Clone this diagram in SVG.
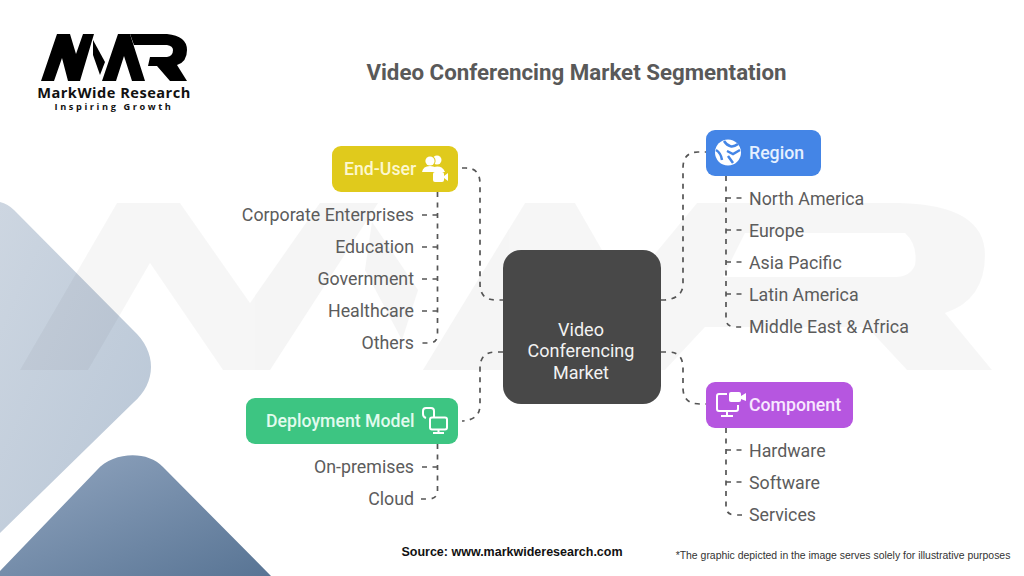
<svg xmlns="http://www.w3.org/2000/svg" width="1024" height="576" viewBox="0 0 1024 576">
<style>
text{font-family:Roboto,"Liberation Sans",sans-serif}
.leaf{font-size:17.8px;fill:#5c5c5c}
.end{text-anchor:end}
.head{font-size:17.7px;font-weight:500;fill:#fff}
.mid{font-size:18px;fill:#f2f2f2;text-anchor:middle}
.conn{fill:none;stroke:#555;stroke-width:1.7;stroke-dasharray:5 5.5}
.ic{fill:#fff}
.il{fill:none;stroke:#fff;stroke-width:2}
</style>
<defs>
<linearGradient id="g1" x1="0" y1="0" x2="1" y2="1"><stop offset="0" stop-color="#cdd6e1"/><stop offset="1" stop-color="#b8c6d6"/></linearGradient>
<linearGradient id="g2" x1="0" y1="0" x2="1" y2="1"><stop offset="0" stop-color="#92a6c0"/><stop offset="1" stop-color="#587494"/></linearGradient>
</defs>
<rect width="1024" height="576" fill="#fff"/>
<path id="shape-light" d="M0 202Q8 204 14 210L133 330C157 352 157 382 133 403L0 533Z" fill="url(#g1)"/>
<path id="shape-dark" d="M0 571L97 470C113 452 147 450 163 467L271 576H0Z" fill="url(#g2)"/>
<g id="watermark" fill="#000" opacity="0.036">
<path d="M20 370L117 203H180L250 303L320 203H378L270 370H223L150 263L88 370Z"/>
<path d="M372 222L418 290L402 340L365 270Z"/>
<path fill-rule="evenodd" d="M423 370L525 203H575L625 290L697 203H900Q985 205 985 255Q985 300 945 313L992 370H907L867 327H705L665 370H580L540 300L505 370ZM745 233H905Q918 245 915 265Q910 277 895 277H723Z"/>
</g>
<g id="logo">
<path d="M41 81L57 34H70L76 54L83 34H94L80 81H68L62 58L54 81Z" fill="#000"/>
<path d="M93 40L105 62L100 75L93 55Z" fill="#000"/>
<path d="M102 81L118 34H130L145 81H132L124 56L116 81Z" fill="#000"/>
<path d="M130 34H167Q187 36 187 50Q187 62 177 65L187 81H170L157 66H148L150 57H167Q173 56 173 50Q173 46 167 45H134Z" fill="#000"/>
<text x="114" y="98" text-anchor="middle" style="font-family:'Open Sans','Liberation Sans',sans-serif" font-size="14.6" font-weight="700" letter-spacing="0.5" fill="#111">MarkWide Research</text>
<text x="114" y="109.500" text-anchor="middle" style="font-family:'Open Sans','Liberation Sans',sans-serif" font-size="9.2" font-weight="700" letter-spacing="2.6" fill="#111">Inspiring Growth</text>
</g>
<text id="title" x="576.5" y="80" text-anchor="middle" font-size="22.3" font-weight="700" fill="#595959">Video Conferencing Market Segmentation</text>
<g id="connectors">
<path class="conn" d="M462 168H466Q480 168 480 184V284Q480 300 496 300H503"/>
<path class="conn" d="M661 300H665Q683 298 683 284V168Q683 152 698 152H706"/>
<path class="conn" d="M503 352H496Q480 352 480 368V405Q480 420 462 421"/>
<path class="conn" d="M661 352H668Q683 352 683 368V388Q683 404 700 404H706"/>
<path class="conn" d="M437.5 192V335Q437.5 342 430 343H420M437.5 215H422M437.5 247H422M437.5 279H422M437.5 311H422"/>
<path class="conn" d="M726 176V319Q726 326 734 327H742M726 198H742M726 230H742M726 262H742M726 294H742"/>
<path class="conn" d="M437.5 444V491Q437.5 498 430 499H420M437.5 467H422"/>
<path class="conn" d="M726 428V507Q726 514 734 515H742M726 450H742M726 482H742"/>
</g>
<g id="center"><rect x="503" y="250" width="158" height="154" rx="18" fill="#484848"/>
<text class="mid" x="581" y="335.500">Video</text>
<text class="mid" x="581" y="357">Conferencing</text>
<text class="mid" x="581" y="378.500">Market</text></g>
<g id="end-user"><rect x="332" y="146" width="126" height="46" rx="9" fill="#e0ca1c"/>
<text class="head" x="344" y="175" style="fill:#fdf8cf">End-User</text>
<circle class="ic" cx="437" cy="160" r="4.5"/><path class="ic" d="M434 167Q442 165 445 172H437Z"/>
<circle cx="430" cy="161" r="5.6" fill="#e0ca1c"/><circle class="ic" cx="430" cy="161" r="4.6"/><path class="ic" d="M422 172Q423 166 430 166Q437 166 439 172Z"/>
<rect class="ic" x="433" y="172" width="11" height="10" rx="2"/><path class="ic" d="M444 176L448 173V181L444 178Z"/></g>
<g id="deployment-model"><rect x="246" y="398" width="212" height="46" rx="9" fill="#3dc582"/>
<text class="head" x="266" y="427" style="fill:#e2fbee">Deployment Model</text>
<path class="il" d="M426 418Q423 417 423 414V411Q423 408 426 408H431Q434 408 434 411V417" stroke-width="1.6"/><rect class="il" x="430" y="417.500" width="17" height="12" rx="2"/><path class="il" d="M438.500 430V433M433 433H444"/></g>
<g id="region"><rect x="706" y="130" width="115" height="46" rx="9" fill="#4485e6"/>
<circle class="ic" cx="728" cy="152.500" r="13"/>
<path d="M716 150Q721 153 722 160M724 141Q730 150 738 144M727 151L733 154L740 150M728 156L733 163" fill="none" stroke="#4485e6" stroke-width="2.500"/>
<text class="head" x="749" y="159" style="fill:#e5f0ff">Region</text></g>
<g id="component"><rect x="706" y="382" width="147" height="46" rx="9" fill="#b656e0"/>
<path class="il" d="M727 394H719Q717 394 717 396V409Q717 411 719 411H736Q738 411 738 409V405"/><path class="il" d="M727 411V416M721 416H733"/>
<rect class="ic" x="729" y="392" width="12" height="10" rx="2"/><path class="ic" d="M741 396L746 393V401L741 399Z"/>
<text class="head" x="749" y="411" style="fill:#f8e8ff">Component</text></g>
<g id="leaves-end-user">
<text class="leaf end" x="414" y="220.500">Corporate Enterprises</text>
<text class="leaf end" x="414" y="252.500">Education</text>
<text class="leaf end" x="414" y="284.500">Government</text>
<text class="leaf end" x="414" y="316.500">Healthcare</text>
<text class="leaf end" x="414" y="348.500">Others</text></g>
<g id="leaves-region">
<text class="leaf" x="749" y="204.500">North America</text>
<text class="leaf" x="749" y="236.500">Europe</text>
<text class="leaf" x="749" y="268.500">Asia Pacific</text>
<text class="leaf" x="749" y="300.500">Latin America</text>
<text class="leaf" x="749" y="332.500">Middle East &amp; Africa</text></g>
<g id="leaves-deployment">
<text class="leaf end" x="414" y="472.500">On-premises</text>
<text class="leaf end" x="414" y="504.500">Cloud</text></g>
<g id="leaves-component">
<text class="leaf" x="749" y="456.500">Hardware</text>
<text class="leaf" x="749" y="488.500">Software</text>
<text class="leaf" x="749" y="520.500">Services</text></g>
<text id="source" x="512" y="556" text-anchor="middle" font-size="12.500" font-weight="700" fill="#111" style="font-family:'Liberation Sans',sans-serif">Source: www.markwideresearch.com</text>
<text id="note" x="843" y="559" text-anchor="middle" font-size="10.450" fill="#333" style="font-family:'Liberation Sans',sans-serif">*The graphic depicted in the image serves solely for illustrative purposes</text>
</svg>
